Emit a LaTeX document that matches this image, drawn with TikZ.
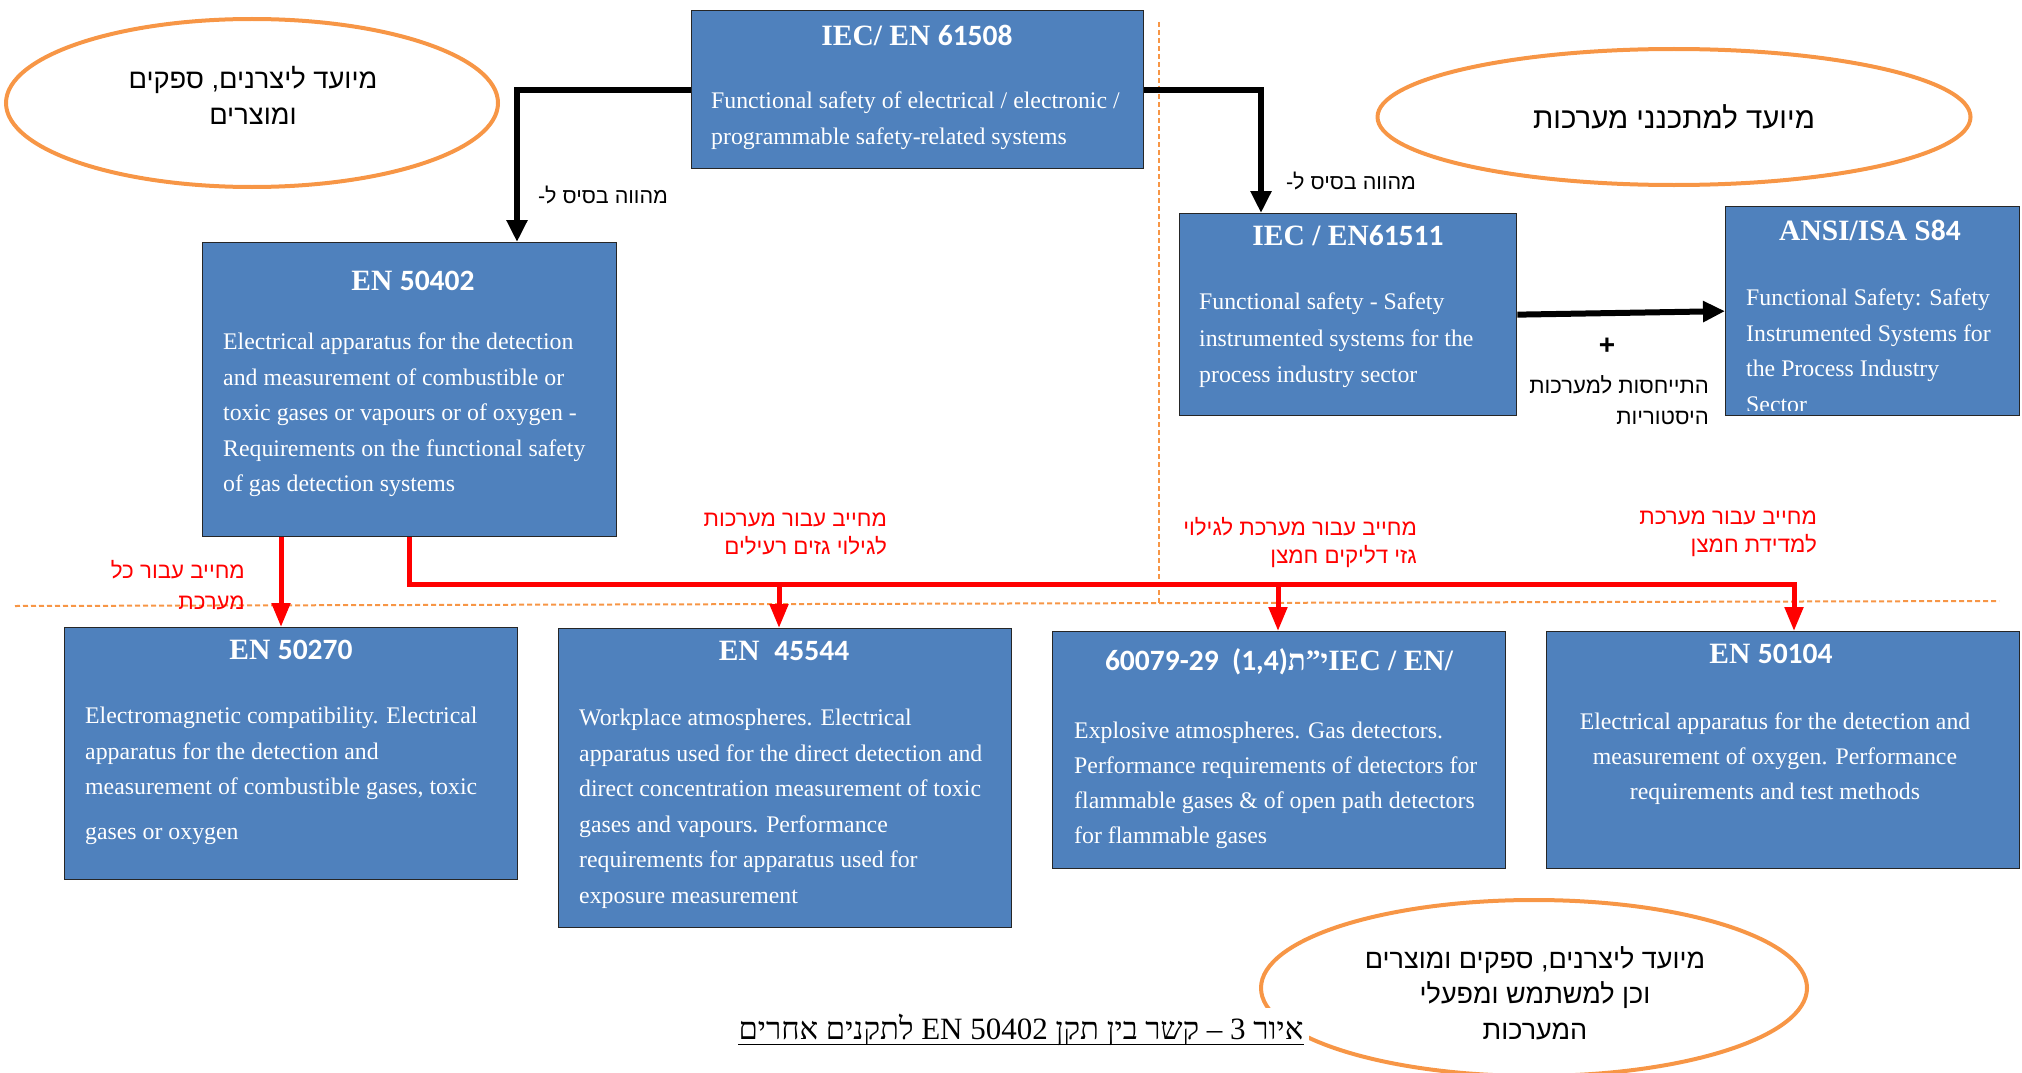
\documentclass[tikz,border=0pt]{standalone}
\usepackage{fontspec}
\setmainfont{Liberation Serif}
\newfontfamily\heb[Script=Hebrew]{Liberation Sans}
\newfontfamily\hebs[Script=Hebrew]{Liberation Serif}
\newfontfamily\dig{Carlito}
\usetikzlibrary{arrows.meta,shapes.geometric}
\TeXXeTstate=1
\definecolor{boxblue}{HTML}{4F81BD}
\definecolor{orng}{HTML}{F79646}
\definecolor{redl}{HTML}{FF0000}
\begin{document}
\begin{tikzpicture}[x=1pt,y=-1pt,
  stdbox/.style={draw=black!85, line width=1.3pt, fill=boxblue, inner sep=0pt, anchor=north west},
  ttl/.style={text=white, font=\fontsize{29.5}{31}\selectfont\bfseries, inner sep=0pt},
  body/.style={text=white, font=\fontsize{23.8}{35.5}\selectfont, align=left, inner sep=0pt, anchor=north west},
  oval/.style={draw=orng, line width=4pt, ellipse, inner sep=0pt},
  hebtxt/.style={font=\heb\fontsize{27.3}{36}\selectfont, align=center, inner sep=0pt},
  hlabel/.style={font=\heb\fontsize{21.5}{28}\selectfont, inner sep=0pt},
  redlabel/.style={text=redl, font=\heb\fontsize{22.3}{28}\selectfont, align=right, inner sep=0pt, anchor=east},
  blk/.style={line width=6pt, -{Triangle[length=22pt,width=20pt]}},
  redarr/.style={draw=redl, line width=5pt, -{Triangle[length=24pt,width=18pt]}},
  odash/.style={draw=orng, line width=2pt, dash pattern=on 5pt off 3pt}
]
\useasboundingbox (0,0) rectangle (2022,1073);
\clip (0,0) rectangle (2022,1073);

% orange dashed guide lines
\coordinate (hl) at (15,606);
\coordinate (hr) at (1999,601);
\coordinate (vt) at (1159,22);
\coordinate (vb) at (1159,604);
\draw[odash] (hl) -- (hr);
\draw[odash] (vt) -- (vb);

% ellipses
\node[oval, minimum width=492pt, minimum height=168pt] (E1) at (252,103) {};
\node[hebtxt] (E1t) at (253,95) {\beginR מיועד ליצרנים, ספקים\endR\\\beginR ומוצרים\endR};
\node[oval, minimum width=593pt, minimum height=136pt] (E2) at (1674,117) {};
\node[hebtxt, font=\heb\fontsize{29.4}{36}\selectfont] (E2t) at (1674,117) {\beginR מיועד למתכנני מערכות\endR};

% boxes
\node[stdbox, minimum width=452pt, minimum height=158pt] (T) at (691,10) {};
\node[ttl] (Tt) at (917,35) {IEC/ EN {\dig 61508}};
\node[body] (Tb) at (711,92) {Functional safety of electrical / electronic /\\programmable safety-related systems};

\node[stdbox, minimum width=414pt, minimum height=294pt] (A) at (202,242) {};
\node[ttl] (At) at (413,281) {EN {\dig 50402}};
\node[body] (Ab) at (223,333) {Electrical apparatus for the detection\\and measurement of combustible or\\toxic gases or vapours or of oxygen -\\Requirements on the functional safety\\of gas detection systems};

\node[stdbox, minimum width=337pt, minimum height=202pt] (B) at (1179,213) {};
\node[ttl] (Bt) at (1348,236) {IEC / EN{\dig 61511}};
\node[body, font=\fontsize{23.8}{36.5}\selectfont] (Bb) at (1199,293) {Functional safety - Safety\\instrumented systems for the\\process industry sector};

\node[stdbox, minimum width=294pt, minimum height=209pt] (C) at (1725,206) {};
\node[ttl] (Ct) at (1870,230) {ANSI/ISA S{\dig 84}};
\begin{scope}
\clip (1725,206) rectangle (2019,410);
\node[body, font=\fontsize{23.8}{35.5}\selectfont] (Cb) at (1746,289) {Functional Safety: Safety\\Instrumented Systems for\\the Process Industry\\Sector};
\end{scope}

\node[stdbox, minimum width=453pt, minimum height=252pt] (D) at (64,627) {};
\draw[white, line width=2.5pt] (93,626) -- (268,626);
\node[ttl] (Dt) at (291,650) {EN {\dig 50270}};
\node[body] (Db) at (85,707) {Electromagnetic compatibility. Electrical\\apparatus for the detection and\\measurement of combustible gases, toxic\\[9pt]gases or oxygen};

\node[stdbox, minimum width=453pt, minimum height=299pt] (E) at (558,628) {};
\node[ttl] (Et) at (784,651) {EN\ \ {\dig 45544}};
\node[body] (Eb) at (579,709) {Workplace atmospheres. Electrical\\apparatus used for the direct detection and\\direct concentration measurement of toxic\\gases and vapours. Performance\\requirements for apparatus used for\\exposure measurement};

\node[stdbox, minimum width=453pt, minimum height=237pt] (F) at (1052,631) {};
\node[ttl] (Ft) at (1279,662) {{\dig 60079-29\ \ (1,4)}\mbox{ת}\mbox{"}\mbox{י}IEC / EN/};
\node[body, font=\fontsize{23.8}{35}\selectfont] (Fb) at (1074,722) {Explosive atmospheres. Gas detectors.\\Performance requirements of detectors for\\flammable gases \& of open path detectors\\for flammable gases};

\node[stdbox, minimum width=473pt, minimum height=237pt] (G) at (1546,631) {};
\node[ttl] (Gt) at (1771,654) {EN {\dig 50104}};
\node[body, align=center, anchor=north, font=\fontsize{23.8}{35}\selectfont] (Gb) at (1775,713) {Electrical apparatus for the detection and\\measurement of oxygen. Performance\\requirements and test methods};

% black connectors
\coordinate (xA) at (517,0);
\coordinate (xB) at (1261,0);
\draw[blk] (T.west) -| (A.north -| xA);
\draw[blk] (T.east) -| (B.north -| xB);
\draw[blk] (B.east) -- (C.west);
\node[hlabel] (lb1) at (603,195) {\beginR מהווה בסיס ל-\endR};
\node[hlabel] (lb2) at (1351,181) {\beginR מהווה בסיס ל-\endR};
\node[font=\heb\bfseries\fontsize{28}{30}\selectfont, inner sep=0pt] (plus) at (1607,346) {+};
\node[hlabel, font=\heb\fontsize{22.1}{31}\selectfont, align=right, anchor=east] (lb3) at (1709,400) {\beginR התייחסות למערכות\endR\\\beginR היסטוריות\endR};

% red connectors
\coordinate (xD) at (281,0);
\coordinate (busL) at (409,584);
\coordinate (busR) at (1794,584);
\coordinate (bE) at (779,584);
\coordinate (bF) at (1278,584);
\draw[redarr] (A.south -| xD) -- (D.north -| xD);
\draw[redarr] (A.south -| busL) |- (busR) -- (G.north -| busR);
\draw[redarr] (bE) -- (E.north -| bE);
\draw[redarr] (bF) -- (F.north -| bF);

\node[redlabel, font=\heb\fontsize{22.3}{31}\selectfont] (r1) at (245,585) {\beginR מחייב עבור כל\endR\\\beginR מערכת\endR};
\node[redlabel] (r2) at (887,534) {\beginR מחייב עבור מערכות\endR\\\beginR לגילוי גזים רעילים\endR};
\node[redlabel] (r3) at (1417,543) {\beginR מחייב עבור מערכת לגילוי\endR\\\beginR גזי דליקים חמצן\endR};
\node[redlabel] (r4) at (1817,534) {\beginR מחייב עבור מערכת\endR\\\beginR למדידת חמצן\endR};

% bottom ellipse and caption
\node[oval, minimum width=546pt, minimum height=176pt] (E3) at (1534,988) {};
\node[hebtxt, font=\heb\fontsize{27}{35.5}\selectfont] (E3t) at (1535,993) {\beginR מיועד ליצרנים, ספקים ומוצרים\endR\\\beginR וכן למשתמש ומפעלי\endR\\\beginR המערכות\endR};
\node[fill=white, inner sep=6pt, font=\hebs\fontsize{31}{33}\selectfont] (cap) at (1021,1030) {\beginR איור 3 – קשר בין תקן \beginL EN 50402\endL{} לתקנים אחרים\endR};
\draw[line width=1.5pt] ([xshift=6pt,yshift=-5pt]cap.base west) -- ([xshift=-6pt,yshift=-5pt]cap.base east);
\end{tikzpicture}
\end{document}
